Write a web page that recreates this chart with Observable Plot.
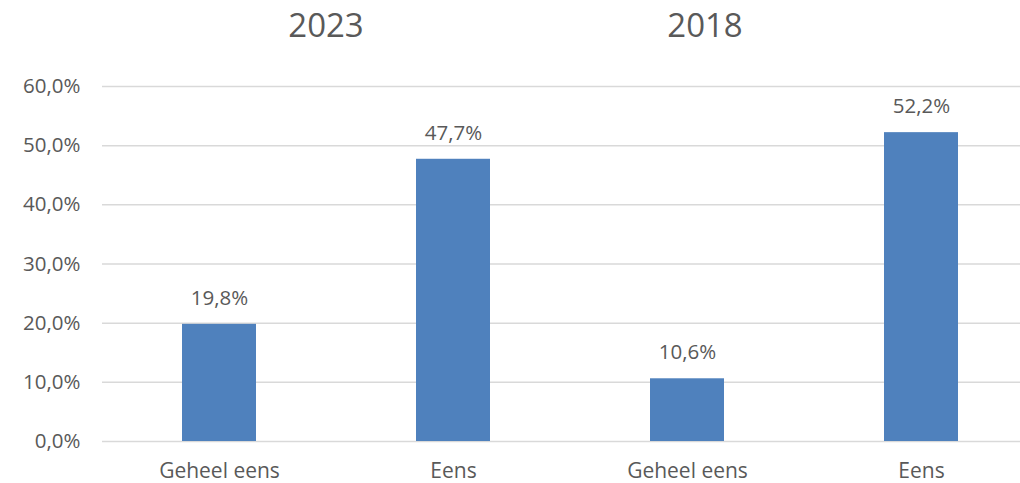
<!DOCTYPE html>
<html>
<head>
<meta charset="utf-8">
<script src="https://cdn.jsdelivr.net/npm/d3@7"></script>
<script src="https://cdn.jsdelivr.net/npm/@observablehq/plot@0.6"></script>
<style>
  html, body { margin: 0; padding: 0; background: #fff; }
  #wrap { position: relative; width: 1020px; height: 483px; font-family: "Open Sans", sans-serif; }
  .title { position: absolute; top: 0px; font-size: 33px; color: #595959; transform: translateX(-50%); line-height: 50px; }
  svg { position: absolute; left: 0; top: 0; }
  svg g[aria-label="x-axis tick label"] text { font-size: 21px; }
</style>
</head>
<body>
<div id="wrap"></div>
<script>
const years = ["2023", "2023", "2018", "2018"];
const categories = ["Geheel eens", "Eens", "Geheel eens", "Eens"];
const values = [0.198, 0.477, 0.106, 0.522];
const groupTitles = ["2023", "2018"];
const yTicks = [0, 0.1, 0.2, 0.3, 0.4, 0.5, 0.6];

const nl = d3.formatLocale({decimal: ",", thousands: ".", grouping: [3], currency: ["€", ""]});
const pct = nl.format(".1%");

const data = values.map((v, i) => ({key: years[i] + "|" + categories[i], cat: categories[i], value: v}));
const keys = data.map(d => d.key);

const textColor = "#595959";

const chart = Plot.plot({
  width: 1020,
  height: 483,
  marginTop: 86,
  marginBottom: 42,
  marginLeft: 102,
  marginRight: 0,
  style: {fontFamily: "Open Sans, sans-serif", fontSize: "20.5px", color: textColor, background: "transparent"},
  x: {domain: keys, range: [102, 1038], padding: 0, label: null, tickSize: 0, tickPadding: 22, tickFormat: k => k.split("|")[1]},
  y: {domain: [0, 0.6], ticks: yTicks, tickFormat: pct, label: null, tickSize: 0, tickPadding: 22},
  marks: [
    Plot.ruleY(yTicks, {stroke: "#d9d9d9", strokeWidth: 1.5}),
    Plot.barY(data, {x: "key", y: "value", fill: "#4f81bd", insetLeft: 80, insetRight: 80}),
    Plot.text(data, {x: "key", y: "value", text: d => pct(d.value), dy: -26, fill: textColor, fontSize: 20.5})
  ]
});

const wrap = document.getElementById("wrap");
wrap.appendChild(chart);
const titlePos = [326, 705];
groupTitles.forEach((t, i) => {
  const div = document.createElement("div");
  div.className = "title";
  div.style.left = titlePos[i] + "px";
  div.textContent = t;
  wrap.appendChild(div);
});
</script>
</body>
</html>
